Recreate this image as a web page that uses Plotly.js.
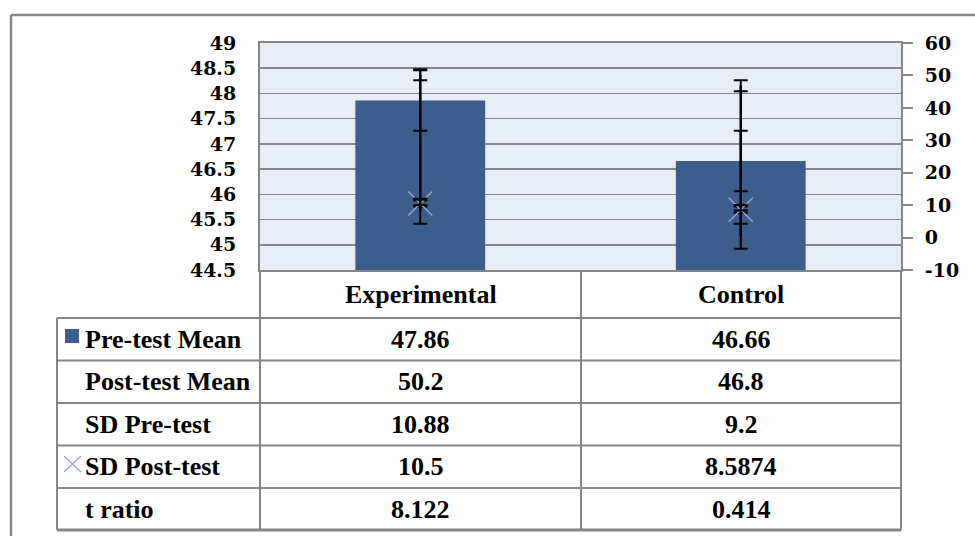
<!DOCTYPE html>
<html>
<head>
<meta charset="utf-8">
<script src="https://cdn.plot.ly/plotly-3.0.1.min.js"></script>
<style>
html,body{margin:0;padding:0;background:#fff;}
#chart{width:975px;height:536px;}
</style>
</head>
<body>
<div id="chart"></div>
<script>
// ---- data ----
const categories = ['Experimental', 'Control'];
const preMean = [47.86, 46.66];
const postMean = [50.2, 46.8];
const sdPre = [10.88, 9.2];
const sdPost = [10.5, 8.5874];
const tRatio = [8.122, 0.414];
const seriesNames = ['Pre-test Mean', 'Post-test Mean', 'SD Pre-test', 'SD Post-test', 't ratio'];
const leftTickVals = [44.5, 45, 45.5, 46, 46.5, 47, 47.5, 48, 48.5, 49];
const leftTickText = ['44.5', '45', '45.5', '46', '46.5', '47', '47.5', '48', '48.5', '49'];
const rightTickVals = [-10, 0, 10, 20, 30, 40, 50, 60];
const rightTickText = ['-10', '0', '10', '20', '30', '40', '50', '60'];

// ---- helpers ----
function stdErr(arr) {
  const n = arr.length;
  const m = arr.reduce((a, b) => a + b, 0) / n;
  const ss = arr.reduce((a, b) => a + (b - m) * (b - m), 0);
  return Math.sqrt(ss / (n - 1)) / Math.sqrt(n);
}
const PL = 260, PR = 901, PT = 43, PB = 270;
const X = px => (px - PL) / (PR - PL);
const Y = py => (PB - py) / (PB - PT);

const GRID = '#868686';
const BAR = '#3B5E8C';
const XKEY = '#8EA8D2';

const errStyle = se => ({type: 'constant', value: se, visible: true, color: '#000', thickness: 2, width: 7});

const lineSeries = [postMean, sdPre, sdPost, tRatio];
const hi = categories.map((_, i) => Math.max(...lineSeries.map(s => s[i])));
const lo = categories.map((_, i) => Math.min(...lineSeries.map(s => s[i])));

const invisible = {size: 2, color: 'rgba(0,0,0,0)'};

function makeTraces() {
  return [
    {type: 'bar', x: categories, y: preMean, yaxis: 'y', name: seriesNames[0],
     marker: {color: BAR}, error_y: errStyle(stdErr(preMean)), hoverinfo: 'skip'},
    // high-low lines
    {type: 'scatter', mode: 'markers', x: categories, y: hi, yaxis: 'y2', marker: invisible,
     error_y: {type: 'data', symmetric: false, array: hi.map(() => 0), arrayminus: hi.map((h, i) => h - lo[i]),
               visible: true, color: '#000', thickness: 2.5, width: 0}, hoverinfo: 'skip'},
    {type: 'scatter', mode: 'markers', x: categories, y: sdPost, yaxis: 'y2', name: seriesNames[3],
     marker: {symbol: 'x-thin', size: 24, line: {color: XKEY, width: 1.5}, color: XKEY},
     error_y: errStyle(stdErr(sdPost)), hoverinfo: 'skip'},
    {type: 'scatter', mode: 'markers', x: categories, y: postMean, yaxis: 'y2', name: seriesNames[1],
     marker: invisible, error_y: errStyle(stdErr(postMean)), hoverinfo: 'skip'},
    {type: 'scatter', mode: 'markers', x: categories, y: sdPre, yaxis: 'y2', name: seriesNames[2],
     marker: invisible, error_y: errStyle(stdErr(sdPre)), hoverinfo: 'skip'},
    {type: 'scatter', mode: 'markers', x: categories, y: tRatio, yaxis: 'y2', name: seriesNames[4],
     marker: invisible, error_y: errStyle(stdErr(tRatio)), hoverinfo: 'skip'}
  ];
}

// ---- table (shapes + annotations) ----
const rowLines = [318, 360.5, 403, 445.5, 488, 530];
const shapes = [];
const ln = (x0, y0, x1, y1, w, c) => shapes.push({type: 'line', xref: 'paper', yref: 'paper',
  x0: X(x0), y0: Y(y0), x1: X(x1), y1: Y(y1), line: {color: c || GRID, width: w || 2}, layer: 'above'});

rowLines.forEach((ry, k) => ln(57, ry, 901, ry, k === rowLines.length - 1 ? 3 : 2));
ln(57, 318, 57, 530);
ln(260, 270, 260, 530);
ln(581, 270, 581, 530);
ln(901, 270, 901, 530);
// outer chart frame
ln(11, 15, 980, 15, 2.5);
ln(11, 15, 11, 540, 2.5);
// legend keys
shapes.push({type: 'rect', xref: 'paper', yref: 'paper', x0: X(65), x1: X(79), y0: Y(343), y1: Y(329),
  fillcolor: BAR, line: {width: 0}});
ln(64, 456, 81, 472, 1.2, XKEY);
ln(64, 472, 81, 456, 1.2, XKEY);

const SERIF = 'Liberation Serif';
const annotations = [];
const tf = () => ({family: SERIF, size: 26, color: '#000000', weight: 'bold'});
const colCenters = [420.5, 741];
categories.forEach((c, j) => annotations.push({xref: 'paper', yref: 'paper', x: X(colCenters[j]), y: Y(294),
  text: c, showarrow: false, xanchor: 'center', yanchor: 'middle', font: tf()}));
const tableRows = [preMean, postMean, sdPre, sdPost, tRatio];
tableRows.forEach((vals, r) => {
  const cy = (rowLines[r] + rowLines[r + 1]) / 2;
  annotations.push({xref: 'paper', yref: 'paper', x: X(83), y: Y(cy), text: seriesNames[r], showarrow: false,
    xanchor: 'left', yanchor: 'middle', font: tf()});
  vals.forEach((v, j) => annotations.push({xref: 'paper', yref: 'paper', x: X(colCenters[j]), y: Y(cy),
    text: String(v), showarrow: false, xanchor: 'center', yanchor: 'middle', font: tf()}));
});

const tickFont = () => ({family: 'DejaVu Serif', size: 19, color: '#000000', weight: 'bold'});

function makeLayout() {
  return {
    width: 975, height: 536,
    margin: {l: PL, r: 975 - PR, t: PT, b: 536 - PB, pad: 0},
    paper_bgcolor: '#ffffff', plot_bgcolor: '#E8ECF5',
    font: {family: SERIF},
    showlegend: false, bargap: 0.595,
    xaxis: {type: 'category', showticklabels: false, ticks: '', showline: true, linecolor: GRID, linewidth: 2,
            mirror: true, showgrid: false, zeroline: false},
    yaxis: {range: [44.5, 49], tickvals: leftTickVals, ticktext: leftTickText, showgrid: true, gridcolor: GRID,
            gridwidth: 1.5, showline: true, linecolor: GRID, linewidth: 2, ticks: '', ticklabelstandoff: 18,
            tickfont: tickFont(), zeroline: false},
    yaxis2: {overlaying: 'y', side: 'right', range: [-10, 60], tickvals: rightTickVals, ticktext: rightTickText,
             showgrid: false, showline: true, linecolor: GRID, linewidth: 2, ticks: 'outside', ticklen: 10,
             tickcolor: GRID, tickwidth: 2, ticklabelstandoff: 8, tickfont: tickFont(), zeroline: false},
    shapes: shapes,
    annotations: annotations
  };
}

Plotly.newPlot('chart', makeTraces(), makeLayout(), {staticPlot: true, displayModeBar: false});
if (document.fonts && document.fonts.ready) {
  document.fonts.ready.then(() => Plotly.react('chart', makeTraces(), makeLayout(), {staticPlot: true, displayModeBar: false}));
}
</script>
</body>
</html>
